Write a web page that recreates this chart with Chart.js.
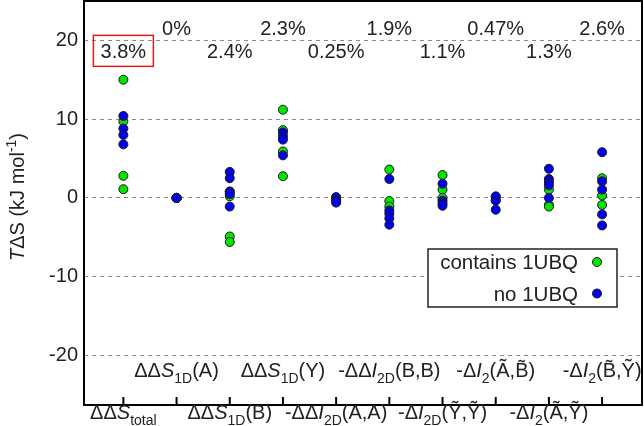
<!DOCTYPE html>
<html>
<head>
<meta charset="utf-8">
<script src="https://cdn.jsdelivr.net/npm/chart.js@4"></script>
<style>
  html, body { margin: 0; padding: 0; background: #fff; }
  canvas { display: block; }
</style>
</head>
<body>
<canvas id="chart" width="644" height="426"></canvas>
<script>
// ===== data =====
// one entry per category, left to right
const greenVals = [
  [15.0, 9.7, 2.8, 1.1],
  [0, 0, 0, 0],
  [0.8, 0.2, -4.9, -5.6],
  [11.2, 8.6, 5.9, 2.75],
  [0.0, -0.2, -0.5],
  [3.6, -0.4, -1.1],
  [2.9, 1.05, 0.0],
  [0.1, -0.3],
  [1.05, -0.9, -1.1],
  [2.5, 0.3, -0.9]
];
const blueVals = [
  [10.4, 8.8, 8.0, 6.8],
  [0],
  [3.3, 2.5, 0.8, 0.5, -1.1],
  [8.3, 7.8, 7.4, 5.4],
  [0.1, -0.3, -0.6],
  [2.4, -1.6, -2.0, -2.6, -3.4],
  [1.8, -0.35, -0.7, -1.0],
  [0.2, -0.35, -1.5],
  [3.7, 2.4, 2.0, 1.6, 0.0],
  [5.8, 2.1, 1.05, -2.1, -3.5]
];
const percents = ["3.8%", "0%", "2.4%", "2.3%", "0.25%", "1.9%", "1.1%", "0.47%", "1.3%", "2.6%"];

// category labels: [text, style]  ('' normal, 'i' italic, 'sub' subscript)
const catLabels = [
  [["ΔΔ", ""], ["S", "i"], ["total", "sub"]],
  [["ΔΔ", ""], ["S", "i"], ["1D", "sub"], ["(A)", ""]],
  [["ΔΔ", ""], ["S", "i"], ["1D", "sub"], ["(B)", ""]],
  [["ΔΔ", ""], ["S", "i"], ["1D", "sub"], ["(Y)", ""]],
  [["-ΔΔ", ""], ["I", "i"], ["2D", "sub"], ["(A,A)", ""]],
  [["-ΔΔ", ""], ["I", "i"], ["2D", "sub"], ["(B,B)", ""]],
  [["-Δ", ""], ["I", "i"], ["2D", "sub"], ["(\u1EF8,\u1EF8)", ""]],
  [["-Δ", ""], ["I", "i"], ["2", "sub"], ["(\u00C3,B\u0303)", ""]],
  [["-Δ", ""], ["I", "i"], ["2", "sub"], ["(\u00C3,\u1EF8)", ""]],
  [["-Δ", ""], ["I", "i"], ["2", "sub"], ["(B\u0303,\u1EF8)", ""]]
];
const seriesNames = ["contains 1UBQ", "no 1UBQ"];
const yTitle = [["T", "i"], ["ΔS (kJ mol", ""], ["-1", "sup"], [")", ""]];

const FONT = "'Liberation Sans', Arial, sans-serif";
const GREEN = "#00e600";
const BLUE = "#0000ee";

function toPoints(vals) {
  const pts = [];
  vals.forEach((list, i) => list.forEach(v => pts.push({ x: i, y: v })));
  return pts;
}

// ===== rich text helper =====
function partFont(style, size) {
  if (style === "i") return "italic " + size + "px " + FONT;
  if (style === "sub" || style === "sup") return Math.round(size * 0.72) + "px " + FONT;
  return size + "px " + FONT;
}
function richWidth(ctx, parts, size) {
  let w = 0;
  parts.forEach(p => { ctx.font = partFont(p[1], size); w += ctx.measureText(p[0]).width; });
  return w;
}
function drawRich(ctx, parts, cx, baseY, size) {
  let x = cx - richWidth(ctx, parts, size) / 2;
  ctx.textAlign = "left";
  ctx.textBaseline = "alphabetic";
  parts.forEach(p => {
    ctx.font = partFont(p[1], size);
    let dy = 0;
    if (p[1] === "sub") dy = size * 0.3;
    if (p[1] === "sup") dy = -size * 0.42;
    ctx.fillText(p[0], x, baseY + dy);
    x += ctx.measureText(p[0]).width;
  });
}

// ===== extra drawing: frame, ticks, labels, legend =====
const decorations = {
  id: "decorations",
  afterDraw(chart) {
    const ctx = chart.ctx;
    const a = chart.chartArea;
    const xs = chart.scales.x;
    const ys = chart.scales.y;
    ctx.save();
    ctx.fillStyle = "#222";

    // frame
    ctx.strokeStyle = "#000";
    ctx.lineWidth = 2;
    ctx.strokeRect(a.left, a.top, a.right - a.left, a.bottom - a.top);

    // inward ticks + category labels
    catLabels.forEach((parts, i) => {
      const px = xs.getPixelForValue(i);
      ctx.beginPath();
      ctx.moveTo(px, a.bottom);
      ctx.lineTo(px, a.bottom - 8);
      ctx.stroke();
      const base = i % 2 === 0 ? a.bottom + 14 : a.bottom - 28;
      drawRich(ctx, parts, px, base, 20);
    });

    // percentages
    const y20 = ys.getPixelForValue(20);
    ctx.font = "20px " + FONT;
    ctx.textAlign = "center";
    ctx.textBaseline = "alphabetic";
    percents.forEach((t, i) => {
      const px = xs.getPixelForValue(i);
      const base = i % 2 === 0 ? y20 + 18 : y20 - 5;
      ctx.fillText(t, px, base);
    });
    // red box around the total
    const p0 = xs.getPixelForValue(0);
    ctx.strokeStyle = "#e41a1a";
    ctx.lineWidth = 1.5;
    ctx.strokeRect(p0 - 30, y20 - 5, 60, 31);

    // legend
    ctx.fillStyle = "#fff";
    ctx.fillRect(428, 249, 189, 58);
    ctx.strokeStyle = "#222";
    ctx.lineWidth = 1.5;
    ctx.strokeRect(428, 249, 189, 58);
    ctx.font = "20.5px " + FONT;
    ctx.textAlign = "right";
    const rows = [[seriesNames[0], GREEN, 269], [seriesNames[1], BLUE, 300.5]];
    rows.forEach(r => {
      ctx.fillStyle = "#222";
      ctx.fillText(r[0], 578, r[2]);
      ctx.beginPath();
      ctx.arc(597, r[2] - 7, 4.5, 0, Math.PI * 2);
      ctx.fillStyle = r[1];
      ctx.fill();
      ctx.lineWidth = 1;
      ctx.strokeStyle = "#1a1a1a";
      ctx.stroke();
    });

    // y axis title
    ctx.fillStyle = "#222";
    ctx.translate(24, 197);
    ctx.rotate(-Math.PI / 2);
    drawRich(ctx, yTitle, 0, 0, 20);
    ctx.restore();
  }
};

new Chart(document.getElementById("chart"), {
  type: "scatter",
  data: {
    datasets: [
      {
        label: seriesNames[0],
        data: toPoints(greenVals),
        backgroundColor: GREEN,
        borderColor: "#1a1a1a",
        borderWidth: 1,
        pointRadius: 4.5,
        order: 2
      },
      {
        label: seriesNames[1],
        data: toPoints(blueVals),
        backgroundColor: BLUE,
        borderColor: "#1a1a1a",
        borderWidth: 1,
        pointRadius: 4.5,
        order: 1
      }
    ]
  },
  options: {
    responsive: false,
    animation: false,
    layout: { autoPadding: false, padding: { top: 1, right: 2, left: 0, bottom: 0 } },
    plugins: { legend: { display: false }, tooltip: { enabled: false } },
    scales: {
      x: {
        type: "linear",
        min: -0.74,
        max: 9.75,
        ticks: { display: false },
        grid: { display: false },
        border: { display: false },
        afterFit(s) { s.height = 21; s.paddingLeft = 0; s.paddingRight = 0; }
      },
      y: {
        min: -26.3,
        max: 25,
        ticks: {
          stepSize: 10,
          includeBounds: false,
          color: "#222",
          padding: 6,
          font: { size: 20, family: FONT }
        },
        grid: { color: "#888", lineWidth: 1, drawTicks: false },
        border: { display: false, dash: [4, 4] },
        afterFit(s) { s.width = 84; s.paddingTop = 0; s.paddingBottom = 0; }
      }
    }
  },
  plugins: [decorations]
});
</script>
</body>
</html>
